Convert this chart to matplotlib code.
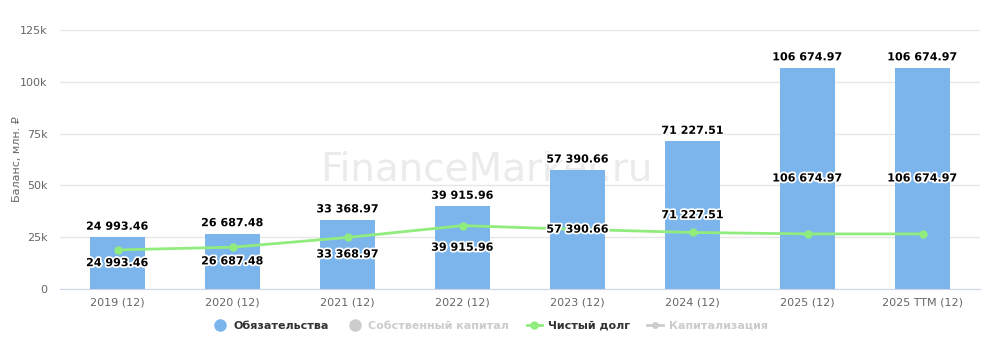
import matplotlib
matplotlib.use('Agg')
import matplotlib.pyplot as plt
import matplotlib.patheffects as pe
from matplotlib.lines import Line2D

categories = ['2019 (12)', '2020 (12)', '2021 (12)', '2022 (12)', '2023 (12)',
              '2024 (12)', '2025 (12)', '2025 TTM (12)']
liabilities = [24993.46, 26687.48, 33368.97, 39915.96, 57390.66,
               71227.51, 106674.97, 106674.97]
net_debt = [18900, 20200, 24900, 30600, 28800, 27300, 26600, 26600]

def fmt(v):
    return '{:,.2f}'.format(v).replace(',', ' ')

plt.rcParams['font.family'] = ['DejaVu Sans']

fig = plt.figure(figsize=(10, 3.56), dpi=100)
ax = fig.add_axes([0.06, 0.188, 0.92, 0.728])

# watermark behind the bars
ax.text(0.463, 0.46, 'FinanceMarker.ru', transform=ax.transAxes, fontsize=28,
        color='#ebebeb', ha='center', va='center', zorder=1)

x = list(range(len(categories)))
ax.bar(x, liabilities, width=0.48, color='#7cb5ec', zorder=2)

outline = [pe.withStroke(linewidth=2.5, foreground='white')]
for xi, v in zip(x, liabilities):
    ax.annotate(fmt(v), (xi, v), xytext=(0, 4), textcoords='offset points',
                ha='center', va='bottom', fontsize=8, fontweight='bold',
                color='black', path_effects=outline, zorder=5)
    ax.text(xi, v / 2, fmt(v), ha='center', va='center', fontsize=8,
            fontweight='bold', color='black', path_effects=outline, zorder=5)

ax.plot(x, net_debt, color='#90ed7d', lw=2, marker='o', ms=5, zorder=3)

ax.set_xlim(-0.5, len(categories) - 0.5)
ax.set_ylim(0, 125000)
ax.set_yticks([0, 25000, 50000, 75000, 100000, 125000])
ax.set_yticklabels(['0', '25k', '50k', '75k', '100k', '125k'])
ax.set_xticks(x)
ax.set_xticklabels(categories)
ax.tick_params(axis='both', length=0, labelsize=8, colors='#666666')
ax.tick_params(axis='y', pad=9)
ax.tick_params(axis='x', pad=6)
ax.grid(axis='y', color='#e6e6e6', lw=1, zorder=0)
for s in ['top', 'right', 'left']:
    ax.spines[s].set_visible(False)
ax.spines['bottom'].set_color('#ccd6eb')
fig.text(0.017, 0.553, 'Баланс, млн. ₽', rotation=90, fontsize=8,
         color='#666666', ha='center', va='center')

handles = [
    Line2D([], [], ls='none', marker='o', ms=8, color='#7cb5ec'),
    Line2D([], [], ls='none', marker='o', ms=8, color='#cccccc'),
    Line2D([], [], color='#90ed7d', lw=2, marker='o', ms=5),
    Line2D([], [], color='#cccccc', lw=2, marker='o', ms=4),
]
labels = ['Обязательства', 'Собственный капитал', 'Чистый долг', 'Капитализация']
leg = fig.legend(handles, labels, loc='center', bbox_to_anchor=(0.49, 0.085),
                 ncol=4, frameon=False, fontsize=8, handlelength=1.4,
                 columnspacing=1.6, handletextpad=0.5)
for t, c in zip(leg.get_texts(), ['#333333', '#cccccc', '#333333', '#cccccc']):
    t.set_color(c)
    t.set_fontweight('bold')

fig.savefig('out.png', dpi=100)
